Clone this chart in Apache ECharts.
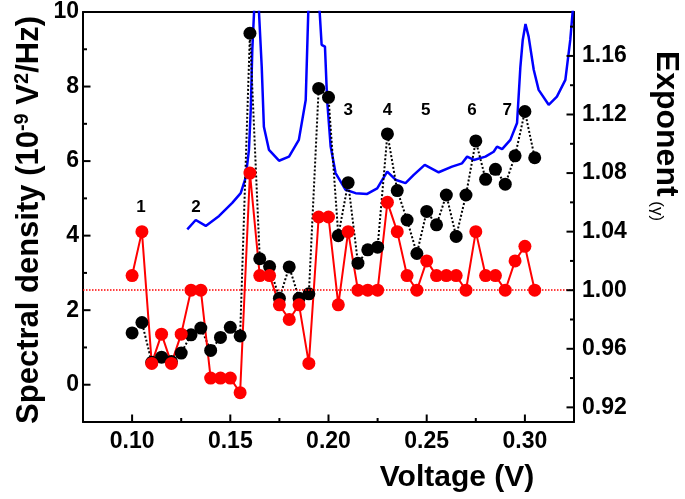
<!DOCTYPE html>
<html><head><meta charset="utf-8">
<script src="https://cdn.jsdelivr.net/npm/echarts@6/dist/echarts.min.js"></script>
<style>html,body{margin:0;padding:0;background:#fff}#c{width:685px;height:499px}</style>
</head><body><div id="c"></div>
<script>
// ---- data ----
const voltage = [0.100,0.105,0.110,0.115,0.120,0.125,0.130,0.135,0.140,0.145,0.150,0.155,0.160,0.165,0.170,0.175,0.180,0.185,0.190,0.195,0.200,0.205,0.210,0.215,0.220,0.225,0.230,0.235,0.240,0.245,0.250,0.255,0.260,0.265,0.270,0.275,0.280,0.285,0.290,0.295,0.300,0.305];
const spectralDensity = [1.39,1.67,0.60,0.74,0.62,0.85,1.34,1.52,0.92,1.27,1.54,1.31,9.43,3.38,3.17,2.32,3.16,2.32,2.44,7.95,7.71,4.00,5.42,3.26,3.62,3.69,6.73,5.21,4.42,3.52,4.65,4.29,5.09,3.98,5.09,6.54,5.51,5.78,5.38,6.14,7.33,6.09];
const exponentGamma = [1.01,1.04,0.95,0.97,0.95,0.97,1.00,1.00,0.94,0.94,0.94,0.93,1.08,1.01,1.01,0.99,0.98,0.99,0.95,1.05,1.05,0.99,1.04,1.00,1.00,1.00,1.06,1.04,1.01,1.00,1.02,1.01,1.01,1.01,1.00,1.04,1.01,1.01,1.00,1.02,1.03,1.00];
const curveX = [0.1281,0.1324,0.1375,0.1443,0.1510,0.1553,0.1578,0.1595,0.1604,0.1612,0.1621,0.1633,0.1646,0.1660,0.1671,0.1697,0.1748,0.1799,0.1849,0.1884,0.1897,0.1926,0.1955,0.1965,0.1982,0.1993,0.2011,0.2036,0.2087,0.2138,0.2197,0.2248,0.2299,0.2341,0.2392,0.2434,0.2490,0.2561,0.2629,0.2680,0.2706,0.2740,0.2799,0.2841,0.2858,0.2884,0.2926,0.2960,0.2977,0.2989,0.3003,0.3019,0.3045,0.3070,0.3121,0.3163,0.3206,0.3231,0.3243,0.3258];
const curveY = [4.17,4.42,4.26,4.53,4.88,5.14,5.55,6.30,7.37,8.98,10.0,11.5,10.0,8.53,6.92,6.30,6.01,6.12,6.57,7.64,10.0,11.5,10.0,9.12,9.07,7.64,6.39,5.68,5.23,5.14,5.12,5.27,5.72,5.50,5.41,5.63,5.90,5.70,5.85,5.94,6.12,6.03,6.12,6.25,6.39,6.32,6.57,7.02,8.53,9.25,9.68,9.34,8.45,7.91,7.51,7.73,8.18,9.25,10.0,11.0];
const gammaReference = 1.00;
const peakLabels = ['1','2','3','4','5','6','7'];
const peakLabelX = [0.1045,0.1325,0.2100,0.2300,0.2495,0.2730,0.2910];
const peakLabelY = [4.77,4.77,7.37,7.37,7.37,7.37,7.37];
const xMajorTicks = [0.10,0.15,0.20,0.25,0.30];
const xMinorTicks = [0.125,0.175,0.225,0.275];
const leftMajorTicks = [0,2,4,6,8,10];
const leftMinorTicks = [1,3,5,7,9];
const rightMajorTicks = [0.92,0.96,1.00,1.04,1.08,1.12,1.16];
const rightMinorTicks = [0.94,0.98,1.02,1.06,1.10,1.14,1.18];

const X_MIN = 0.075, X_MAX = 0.325, L_MIN = -1, L_MAX = 10, R_MIN = 0.91, R_MAX = 1.19;
const FONT = "'Liberation Sans', Arial, sans-serif";
const chart = echarts.init(document.getElementById('c'));
const mkLine = () => ({show:true, onZero:false, lineStyle:{color:'#000', width:2}});
const mkLab = (vals, margin, fmt) => {
  const o = {customValues:vals.slice(), margin:margin, fontSize:23, fontWeight:'bold', color:'#000', fontFamily:FONT};
  if (fmt) o.formatter = fmt;
  return o;
};
const zip = (a,b) => a.map((v,i)=>[v,b[i]]);
const fmt2 = v => Number(v).toFixed(2);
const MAJOR = 7.5, MINOR = 4;

// tick marks drawn through the axes' own scales (api.coord)
function tickSeries(yIdx, pts, dir) {
  return {type:'custom', xAxisIndex:0, yAxisIndex:yIdx, silent:true, z:6, clip:false,
    data:pts,
    renderItem:(params, api) => {
      const p = api.coord([api.value(0), api.value(1)]);
      const L = api.value(2);
      return {type:'line', shape:{x1:p[0], y1:p[1], x2:p[0]+dir[0]*L, y2:p[1]+dir[1]*L},
              style:{stroke:'#000', lineWidth:2}};
    }};
}
const xTickData = xMajorTicks.map(v=>[v, L_MIN, MAJOR]).concat(xMinorTicks.map(v=>[v, L_MIN, MINOR]));
const leftTickData = leftMajorTicks.map(v=>[X_MIN, v, MAJOR]).concat(leftMinorTicks.map(v=>[X_MIN, v, MINOR]));
const rightTickData = rightMajorTicks.map(v=>[X_MAX, v, MAJOR]).concat(rightMinorTicks.map(v=>[X_MAX, v, MINOR]));

chart.setOption({
  animation:false,
  grid:{left:83, right:111, top:12, bottom:77},
  xAxis:[
    {type:'value', min:X_MIN, max:X_MAX, position:'bottom', axisLine:mkLine(), axisTick:{show:false},
     axisLabel:mkLab(xMajorTicks,8,fmt2), splitLine:{show:false}},
    {type:'value', min:X_MIN, max:X_MAX, position:'top', axisLine:mkLine(), axisTick:{show:false},
     axisLabel:{show:false}, splitLine:{show:false}}
  ],
  yAxis:[
    {type:'value', min:L_MIN, max:L_MAX, position:'left', axisLine:mkLine(), axisTick:{show:false},
     axisLabel:mkLab(leftMajorTicks,4,null), splitLine:{show:false}},
    {type:'value', min:R_MIN, max:R_MAX, position:'right', axisLine:mkLine(), axisTick:{show:false},
     axisLabel:mkLab(rightMajorTicks,8,fmt2), splitLine:{show:false}}
  ],
  series:[
    {type:'line', name:'curve', xAxisIndex:0, yAxisIndex:0, data:zip(curveX,curveY), showSymbol:false,
     lineStyle:{color:'#0000ff', width:2.5}},
    {type:'line', name:'Spectral density', xAxisIndex:0, yAxisIndex:0, data:zip(voltage,spectralDensity),
     symbol:'circle', symbolSize:13, itemStyle:{color:'#000'}, lineStyle:{color:'#000', width:2, type:'dotted'}},
    {type:'line', name:'Exponent', xAxisIndex:0, yAxisIndex:1, data:zip(voltage,exponentGamma),
     symbol:'circle', symbolSize:13, itemStyle:{color:'#ff0000'}, lineStyle:{color:'#ff0000', width:2},
     markLine:{silent:true, symbol:['none','none'], label:{show:false},
       itemStyle:{color:'#ff0000'},
       lineStyle:{color:'#ff0000', type:'dotted', width:1.5, opacity:1},
       emphasis:{disabled:true},
       data:[{yAxis:gammaReference, lineStyle:{color:'#ff0000'}}]}},
    {type:'scatter', name:'labels', xAxisIndex:0, yAxisIndex:0,
     data:peakLabels.map((t,i)=>({value:[peakLabelX[i], peakLabelY[i]], name:t})),
     symbolSize:1, itemStyle:{color:'rgba(0,0,0,0)'}, silent:true,
     label:{show:true, position:'inside', formatter:p=>p.name, fontSize:17, fontWeight:'bold', color:'#000',
       textBorderWidth:0, opacity:1, fontFamily:FONT}},
    tickSeries(0, xTickData, [0,-1]),
    tickSeries(0, leftTickData, [1,0]),
    tickSeries(1, rightTickData, [-1,0])
  ],
  graphic:[
    {type:'text', x:29, y:220, rotation:Math.PI/2,
     style:{text:'{m|Spectral density (10}{s|-9}{m| V}{s|2}{m|/Hz)}', align:'center', verticalAlign:'middle',
       rich:{m:{fontSize:31, fontWeight:'bold', fontFamily:FONT, fill:'#000', lineHeight:34},
             s:{fontSize:20, fontWeight:'bold', fontFamily:FONT, fill:'#000', lineHeight:20, verticalAlign:'top'}}}},
    {type:'text', x:666, y:136, rotation:-Math.PI/2,
     style:{text:'{m|Exponent}{g| (γ)}', align:'center', verticalAlign:'middle',
       rich:{m:{fontSize:32, fontWeight:'bold', fontFamily:FONT, fill:'#000', lineHeight:36},
             g:{fontSize:17, fontWeight:'normal', fontFamily:FONT, fill:'#000', lineHeight:22, verticalAlign:'bottom'}}}},
    {type:'text', x:457, y:478,
     style:{text:'Voltage (V)', align:'center', verticalAlign:'middle', fontSize:30, fontWeight:'bold', fontFamily:FONT, fill:'#000'}}
  ]
});
</script></body></html>
